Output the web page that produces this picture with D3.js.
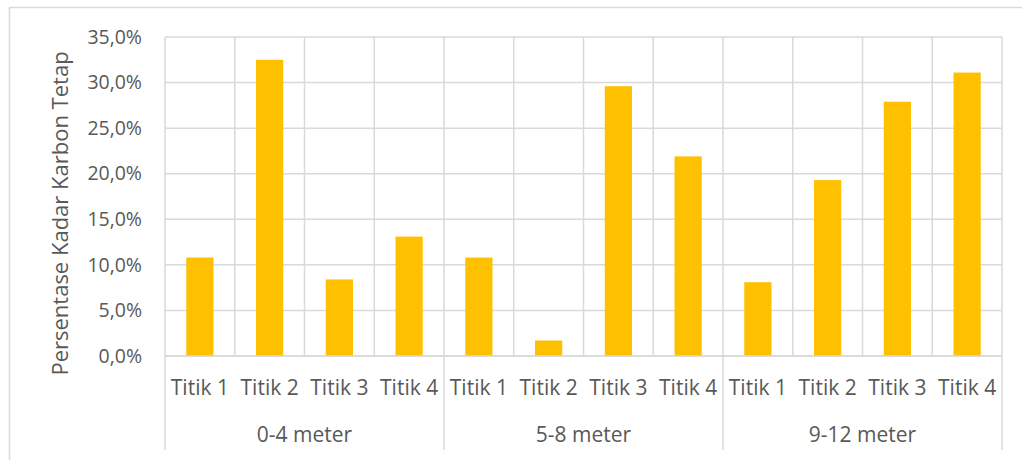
<!DOCTYPE html>
<html>
<head>
<meta charset="utf-8">
<script src="https://cdn.jsdelivr.net/npm/d3@7"></script>
<style>
  html, body { margin: 0; padding: 0; background: #fff; }
  svg { display: block; }
  text { font-family: "Open Sans", "Noto Sans", sans-serif; fill: #595959; }
</style>
</head>
<body>
<svg id="chart" width="1022" height="460"></svg>
<script>
// Depth groups and sampling points
const groups = ["0-4 meter", "5-8 meter", "9-12 meter"];
const points = ["Titik 1", "Titik 2", "Titik 3", "Titik 4"];
// Fixed carbon content (%) per point, one array per depth group
const depth0to4 = [10.8, 32.5, 8.4, 13.1];
const depth5to8 = [10.8, 1.7, 29.6, 21.9];
const depth9to12 = [8.1, 19.3, 27.9, 31.1];
const yTicks = [0, 5, 10, 15, 20, 25, 30, 35];
const yTitle = "Persentase Kadar Karbon Tetap";

const seriesByGroup = [depth0to4, depth5to8, depth9to12];
const rows = [];
groups.forEach((g, gi) => {
  points.forEach((p, pi) => {
    rows.push({ key: g + "|" + p, group: g, point: p, value: seriesByGroup[gi][pi] });
  });
});

const svg = d3.select("#chart");
const plot = { left: 165, right: 1002, top: 37, bottom: 356 };
const axisBottomEnd = 450;
const gridColor = "#d9d9d9";
const barColor = "#FFC000";
const textColor = "#595959";

// Outer chart frame (top and left edges visible)
svg.append("line").attr("x1", 9).attr("x2", 1022).attr("y1", 7.5).attr("y2", 7.5)
  .attr("stroke", gridColor).attr("stroke-width", 1.5);
svg.append("line").attr("x1", 9.5).attr("x2", 9.5).attr("y1", 7).attr("y2", 460)
  .attr("stroke", gridColor).attr("stroke-width", 1.5);

const x = d3.scaleBand().domain(rows.map(d => d.key)).range([plot.left, plot.right]).paddingInner(0);
const xGroup = d3.scaleBand().domain(groups).range([plot.left, plot.right]).paddingInner(0);
const y = d3.scaleLinear().domain([0, 35]).range([plot.bottom, plot.top]);

const locale = d3.formatLocale({ decimal: ",", thousands: ".", grouping: [3], currency: ["", ""] });
const fmt = v => locale.format(".1f")(v) + "%";

// Horizontal gridlines
svg.append("g").selectAll("line").data(yTicks).join("line")
  .attr("x1", plot.left).attr("x2", plot.right)
  .attr("y1", d => y(d)).attr("y2", d => y(d))
  .attr("stroke", gridColor).attr("stroke-width", 1.5);

// Vertical gridlines at every category boundary
const boundaries = rows.map(d => x(d.key)).concat([plot.right]);
svg.append("g").selectAll("line").data(boundaries).join("line")
  .attr("x1", d => d).attr("x2", d => d)
  .attr("y1", plot.top).attr("y2", plot.bottom)
  .attr("stroke", gridColor).attr("stroke-width", 1.5);

// Group separators extending through the multi-level axis
const groupBounds = groups.map(g => xGroup(g)).concat([plot.right]);
svg.append("g").selectAll("line").data(groupBounds).join("line")
  .attr("x1", d => d).attr("x2", d => d)
  .attr("y1", plot.bottom).attr("y2", axisBottomEnd)
  .attr("stroke", gridColor).attr("stroke-width", 1.5);

// Bars
const barW = x.bandwidth() * 0.39;
svg.append("g").selectAll("rect").data(rows).join("rect")
  .attr("x", d => x(d.key) + (x.bandwidth() - barW) / 2)
  .attr("width", barW)
  .attr("y", d => y(d.value))
  .attr("height", d => y(0) - y(d.value))
  .attr("fill", barColor);

// Y axis
const yAxis = svg.append("g").attr("transform", `translate(${plot.left},0)`)
  .call(d3.axisLeft(y).tickValues(yTicks).tickFormat(fmt).tickSize(0).tickPadding(23));
yAxis.select(".domain").remove();
yAxis.selectAll("text").attr("fill", textColor).style("font-size", "19.5px")
  .style("font-family", "'Open Sans', sans-serif");

// Category axis, first level (points)
const xAxis = svg.append("g").attr("transform", `translate(0,${plot.bottom})`)
  .call(d3.axisBottom(x).tickFormat(k => k.split("|")[1]).tickSize(0).tickPadding(0));
xAxis.select(".domain").remove();
xAxis.selectAll("text").attr("fill", textColor).attr("dy", null).attr("y", 39)
  .style("font-size", "21px").style("font-family", "'Open Sans', sans-serif");

// Axis baseline
svg.append("line").attr("x1", plot.left).attr("x2", plot.right)
  .attr("y1", plot.bottom).attr("y2", plot.bottom)
  .attr("stroke", gridColor).attr("stroke-width", 1.5);

// Category axis, second level (depth groups)
const gAxis = svg.append("g").attr("transform", `translate(0,${plot.bottom})`)
  .call(d3.axisBottom(xGroup).tickSize(0).tickPadding(0));
gAxis.select(".domain").remove();
gAxis.selectAll("text").attr("fill", textColor).attr("dy", null).attr("y", 86)
  .style("font-size", "21px").style("font-family", "'Open Sans', sans-serif");

// Y axis title
svg.append("text")
  .attr("transform", `translate(68,${(plot.top + plot.bottom) / 2 + 17}) rotate(-90)`)
  .attr("text-anchor", "middle")
  .attr("fill", textColor)
  .style("font-size", "22px")
  .text(yTitle);
</script>
</body>
</html>
